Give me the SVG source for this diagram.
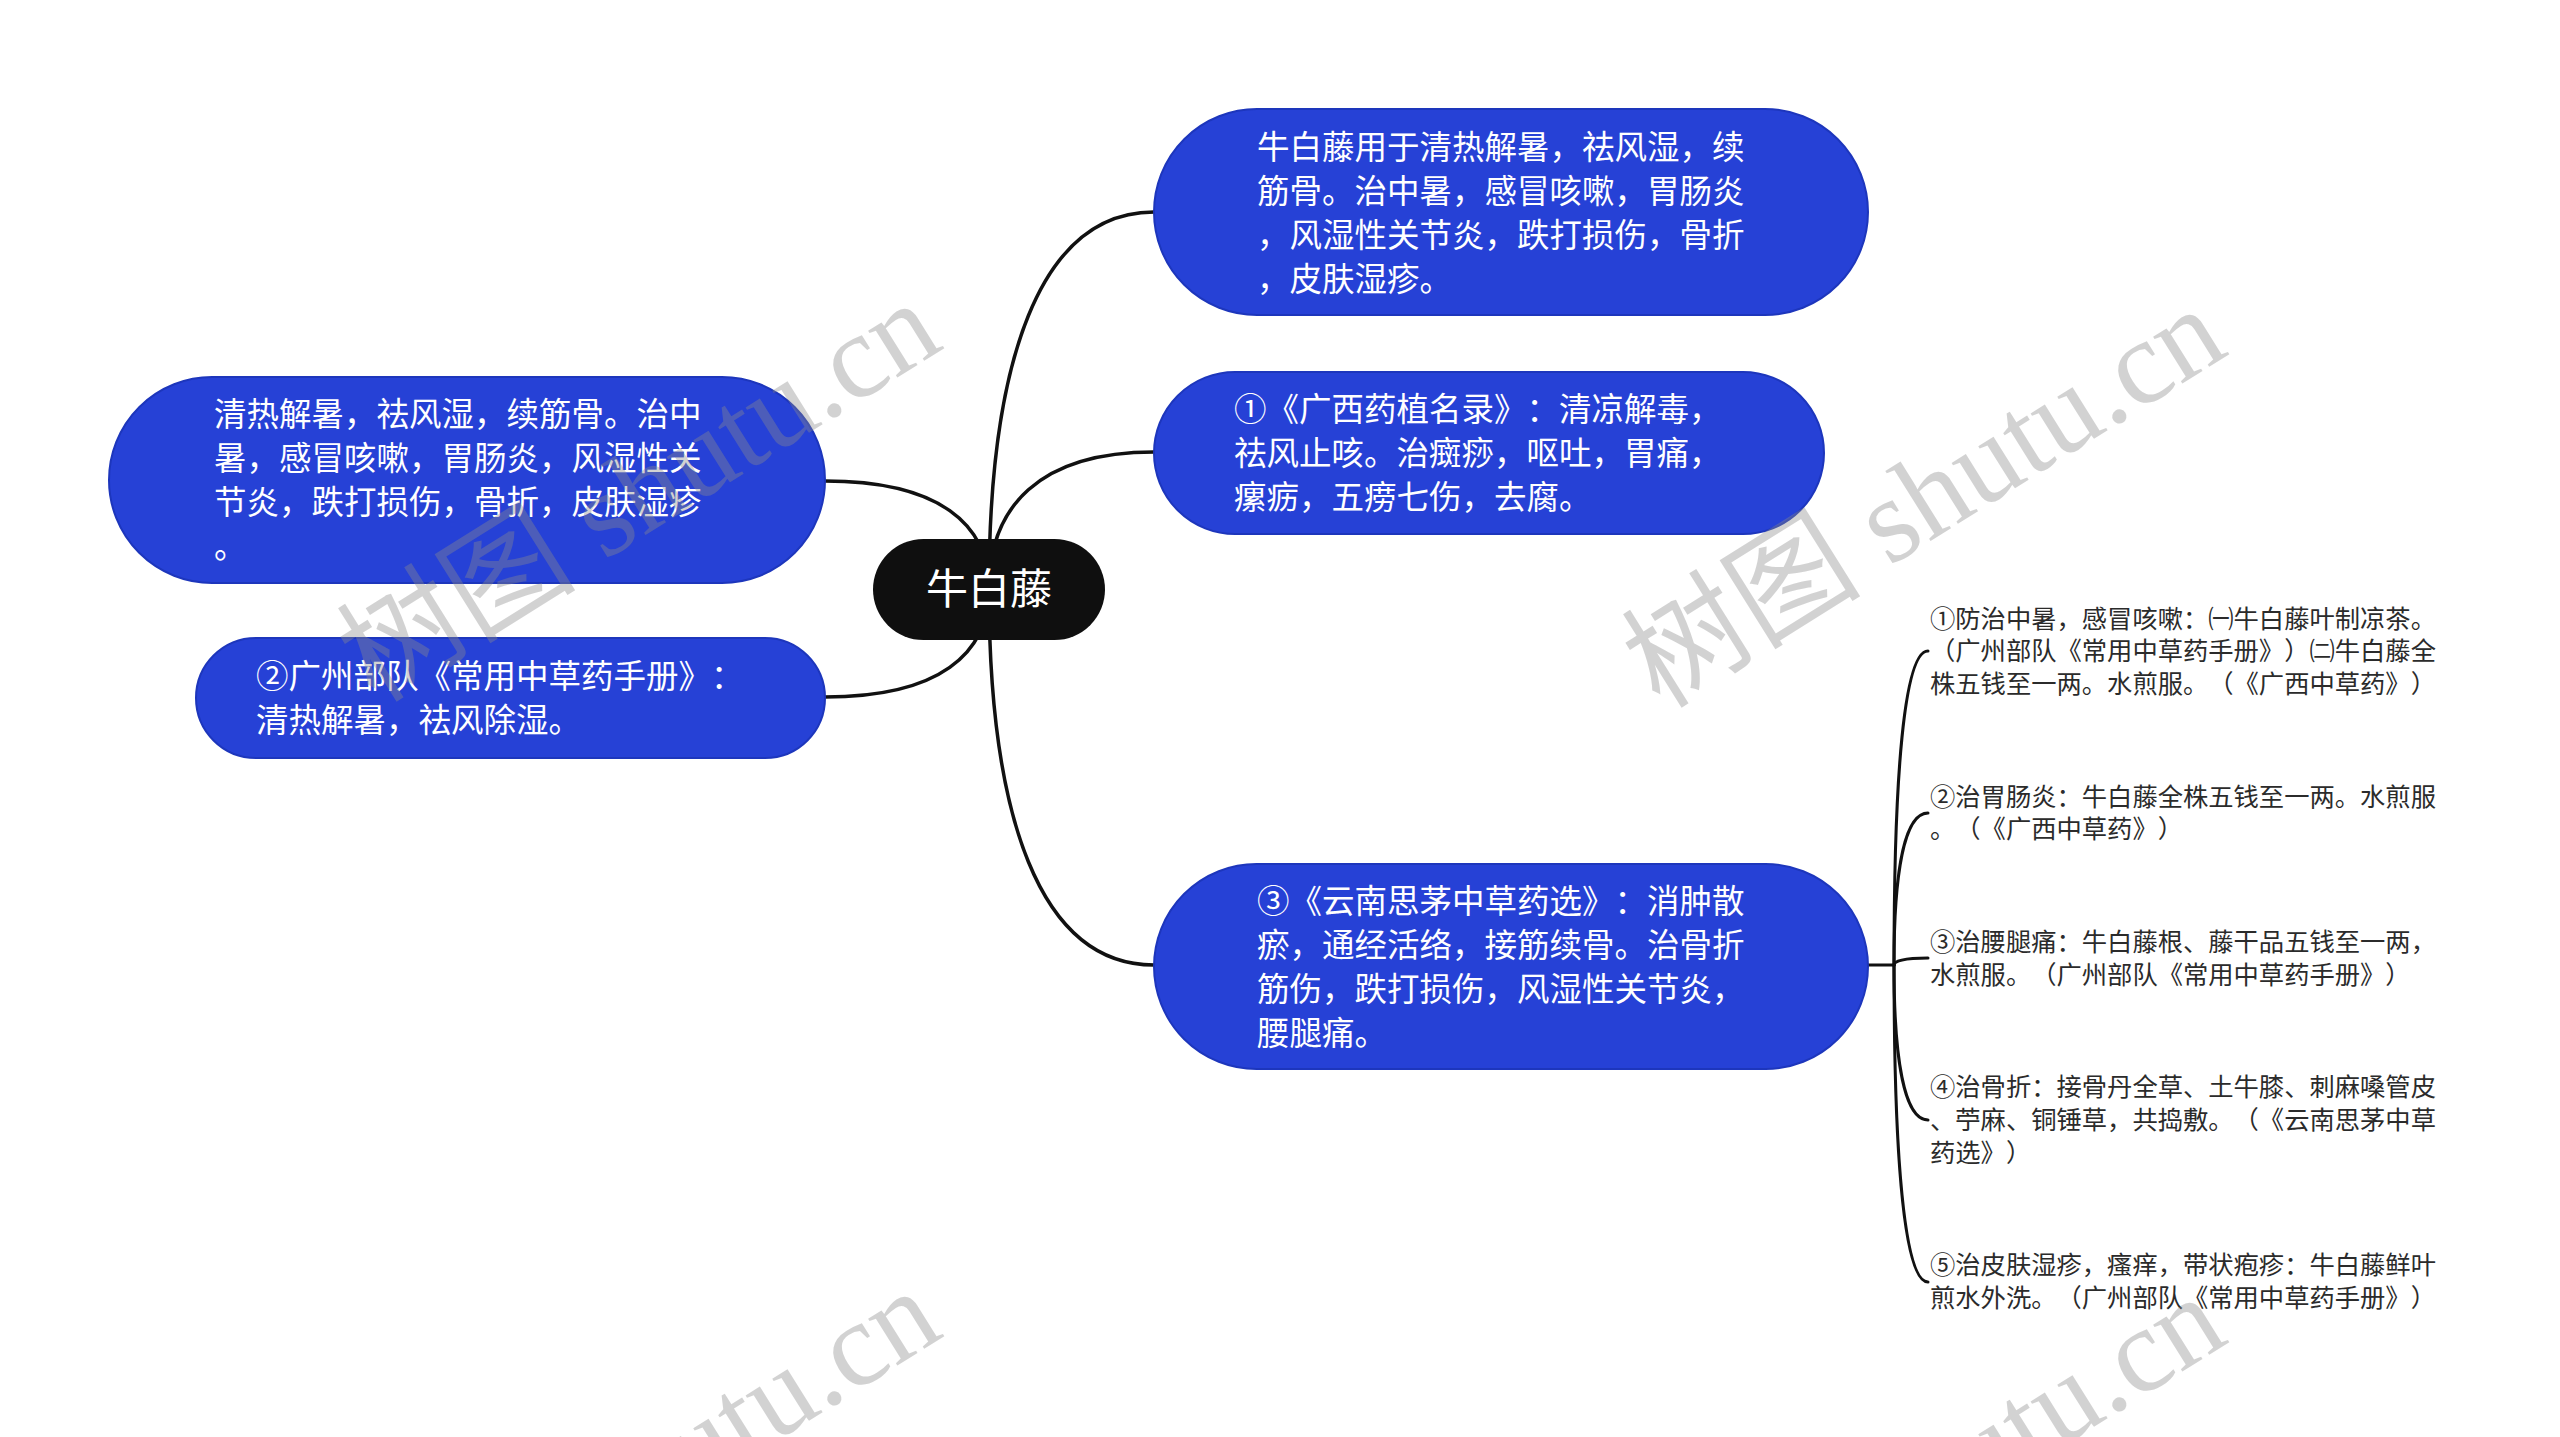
<svg xmlns="http://www.w3.org/2000/svg" width="2560" height="1437" viewBox="0 0 2560 1437">
<style>
.bg{fill:#ffffff}
.conn{fill:none;stroke:#111111;stroke-width:3.5;stroke-linecap:round}
.sub{fill:none;stroke:#111111;stroke-width:3;stroke-linecap:round}
.main{fill:#2641D6;stroke:#1D36BC;stroke-width:2}
.root{fill:#0f0f0f}
.t,.rt,.ct{font-family:"Noto Sans CJK SC","Noto Sans",sans-serif;font-feature-settings:"chws" 0,"halt" 0,"palt" 0;text-spacing-trim:space-all}
.t{fill:#ffffff;font-size:32.5px}
.rt{fill:#ffffff;font-size:42px}
.ct{fill:#2b2b2b;font-size:25.3px}
.wm{font-family:"Liberation Serif","Noto Sans CJK SC",serif;font-size:120px;fill:#8c8c8c;opacity:0.38}
</style>
<rect class="bg" x="0" y="0" width="2560" height="1437"/>
<g id="connectors">
<path class="conn" d="M989 589 C989 363 1039 212 1154 212"/>
<path class="conn" d="M989 589 C989 507 1039 452 1154 452"/>
<path class="conn" d="M989 589 C989 815 1039 965 1154 965"/>
<path class="conn" d="M989 589 C989 524 939 481 825 481"/>
<path class="conn" d="M989 589 C989 654 939 697 825 697"/>
<path class="sub" d="M1868 965 H1894"/>
<path class="sub" d="M1894 965 C1894 777 1904 651 1928 651"/>
<path class="sub" d="M1894 965 C1894 874 1904 813 1928 813"/>
<path class="sub" d="M1894 965 C1894 961 1904 958 1928 958"/>
<path class="sub" d="M1894 965 C1894 1058 1904 1120 1928 1120"/>
<path class="sub" d="M1894 965 C1894 1155 1904 1282 1928 1282"/>
</g>
<g id="root">
<rect class="root" x="873" y="539" width="232" height="101" rx="50.5"/>
<text class="rt" x="989" y="604" text-anchor="middle">牛白藤</text>
</g>
<g id="node-r1">
<rect class="main" x="1154" y="109" width="714" height="206" rx="103"/>
<text class="t" x="1257" y="159">牛白藤用于清热解暑，祛风湿，续</text>
<text class="t" x="1257" y="203">筋骨。治中暑，感冒咳嗽，胃肠炎</text>
<text class="t" x="1257" y="247">，风湿性关节炎，跌打损伤，骨折</text>
<text class="t" x="1257" y="291">，皮肤湿疹。</text>
</g>
<g id="node-r2">
<rect class="main" x="1154" y="372" width="670" height="162" rx="81"/>
<text class="t" x="1234" y="421">①《广西药植名录》：清凉解毒，</text>
<text class="t" x="1234" y="465">祛风止咳。治癍痧，呕吐，胃痛，</text>
<text class="t" x="1234" y="509">瘰疬，五痨七伤，去腐。</text>
</g>
<g id="node-r3">
<rect class="main" x="1154" y="864" width="714" height="205" rx="102.5"/>
<text class="t" x="1257" y="913">③《云南思茅中草药选》：消肿散</text>
<text class="t" x="1257" y="957">瘀，通经活络，接筋续骨。治骨折</text>
<text class="t" x="1257" y="1001">筋伤，跌打损伤，风湿性关节炎，</text>
<text class="t" x="1257" y="1045">腰腿痛。</text>
</g>
<g id="node-l1">
<rect class="main" x="109" y="377" width="716" height="206" rx="103"/>
<text class="t" x="214" y="426">清热解暑，祛风湿，续筋骨。治中</text>
<text class="t" x="214" y="470">暑，感冒咳嗽，胃肠炎，风湿性关</text>
<text class="t" x="214" y="514">节炎，跌打损伤，骨折，皮肤湿疹</text>
<text class="t" x="214" y="558">。</text>
</g>
<g id="node-l2">
<rect class="main" x="196" y="638" width="629" height="120" rx="60"/>
<text class="t" x="256" y="688">②广州部队《常用中草药手册》：</text>
<text class="t" x="256" y="732">清热解暑，祛风除湿。</text>
</g>
<g id="child-1">
<text class="ct" x="1930" y="628">①防治中暑，感冒咳嗽：㈠牛白藤叶制凉茶。</text>
<text class="ct" x="1930" y="660">（广州部队《常用中草药手册》）㈡牛白藤全</text>
<text class="ct" x="1930" y="693">株五钱至一两。水煎服。（《广西中草药》）</text>
</g>
<g id="child-2">
<text class="ct" x="1930" y="806">②治胃肠炎：牛白藤全株五钱至一两。水煎服</text>
<text class="ct" x="1930" y="838">。（《广西中草药》）</text>
</g>
<g id="child-3">
<text class="ct" x="1930" y="951">③治腰腿痛：牛白藤根、藤干品五钱至一两，</text>
<text class="ct" x="1930" y="984">水煎服。（广州部队《常用中草药手册》）</text>
</g>
<g id="child-4">
<text class="ct" x="1930" y="1096">④治骨折：接骨丹全草、土牛膝、刺麻嗓管皮</text>
<text class="ct" x="1930" y="1129">、苧麻、铜锤草，共捣敷。（《云南思茅中草</text>
<text class="ct" x="1930" y="1162">药选》）</text>
</g>
<g id="child-5">
<text class="ct" x="1930" y="1274">⑤治皮肤湿疹，瘙痒，带状疱疹：牛白藤鲜叶</text>
<text class="ct" x="1930" y="1307">煎水外洗。（广州部队《常用中草药手册》）</text>
</g>
<g id="watermark">
<text class="wm" transform="translate(375 704) rotate(-32)">树图 shutu.cn</text>
<text class="wm" transform="translate(1660 710) rotate(-32)">树图 shutu.cn</text>
<text class="wm" transform="translate(375 1692) rotate(-32)">树图 shutu.cn</text>
<text class="wm" transform="translate(1660 1698) rotate(-32)">树图 shutu.cn</text>
</g>
</svg>
